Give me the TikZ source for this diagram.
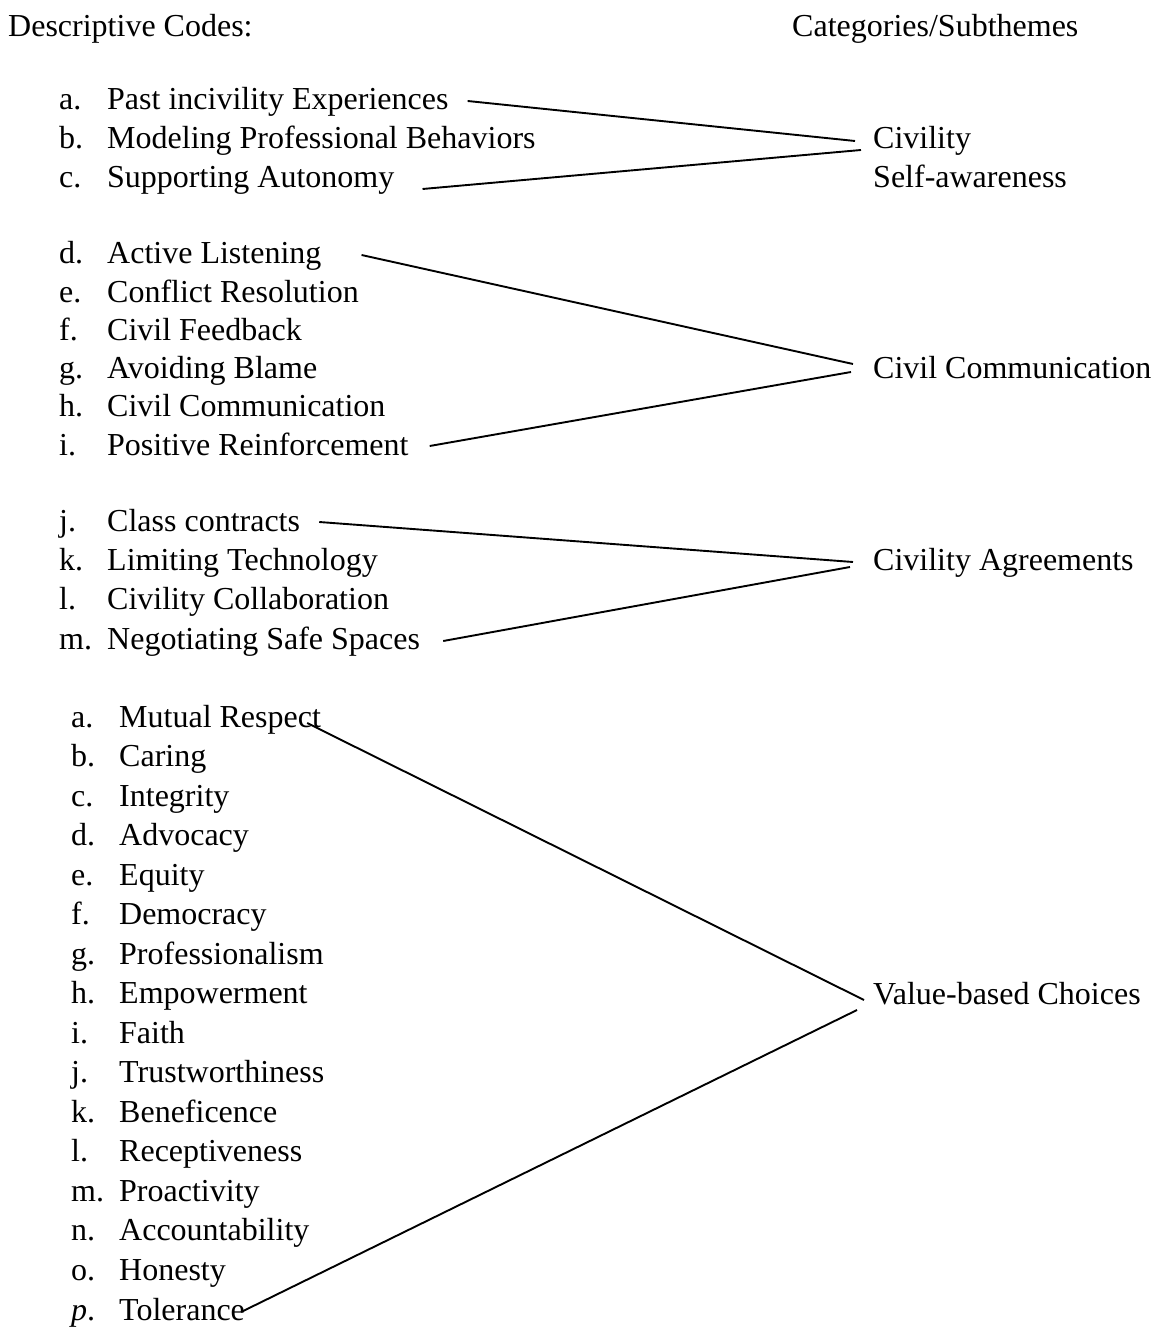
\documentclass[tikz,border=0pt]{standalone}
\usepackage{fontspec}
\setmainfont{Liberation Serif}
\usepackage{tikz}

\newcommand{\itm}[2]{\makebox[48pt][l]{#1}#2}

\begin{document}
\begin{tikzpicture}[x=1pt,y=-1pt,
	code/.style={anchor=base west,inner sep=0pt,font=\fontsize{32}{38}\selectfont},
	link/.style={line width=1.9pt}]
	\useasboundingbox (0,0) rectangle (1155,1329);
	
	\node[code] (hdcodes) at (8,37) {Descriptive Codes:};
	\node[code] (hdcats) at (792,37) {Categories/Subthemes};
	
	% first group
	\node[code] (past) at (59,110) {\itm{a.}{Past incivility Experiences}};
	\node[code] (model) at (59,149) {\itm{b.}{Modeling Professional Behaviors}};
	\node[code] (support) at (59,188) {\itm{c.}{Supporting Autonomy}};
	\node[code] (civ) at (873,149) {Civility};
	\node[code] (selfaw) at (873,188) {Self-awareness};
	
	\draw[link] ([xshift=19pt,yshift=9pt]past.base east) -- ([xshift=-18pt,yshift=8pt]civ.base west);
	\draw[link] ([xshift=28pt,yshift=-1pt]support.base east) -- ([xshift=-12pt,yshift=-1pt]civ.base west);
	
	% second group
	\node[code] (listen) at (59,264) {\itm{d.}{Active Listening}};
	\node[code] (conflict) at (59,302.2) {\itm{e.}{Conflict Resolution}};
	\node[code] (feedback) at (59,340.4) {\itm{f.}{Civil Feedback}};
	\node[code] (blame) at (59,378.6) {\itm{g.}{Avoiding Blame}};
	\node[code] (civcomm) at (59,416.8) {\itm{h.}{Civil Communication}};
	\node[code] (posrein) at (59,455) {\itm{i.}{Positive Reinforcement}};
	\node[code] (civcom) at (873,378) {Civil Communication};
	
	\draw[link] ([xshift=40pt,yshift=9pt]listen.base east) -- ([xshift=-20pt,yshift=14pt]civcom.base west);
	\draw[link] ([xshift=21pt,yshift=9pt]posrein.base east) -- ([xshift=-22pt,yshift=6pt]civcom.base west);
	
	% third group
	\node[code] (contracts) at (59,531) {\itm{j.}{Class contracts}};
	\node[code] (techlim) at (59,570.3) {\itm{k.}{Limiting Technology}};
	\node[code] (collab) at (59,609.6) {\itm{l.}{Civility Collaboration}};
	\node[code] (safesp) at (59,649) {\itm{m.}{Negotiating Safe Spaces}};
	\node[code] (civagr) at (873,570) {Civility Agreements};
	
	\draw[link] ([xshift=19pt,yshift=9pt]contracts.base east) -- ([xshift=-20pt,yshift=8pt]civagr.base west);
	\draw[link] ([xshift=23pt,yshift=8pt]safesp.base east) -- ([xshift=-23pt,yshift=3pt]civagr.base west);
	
	% values
	\node[code] (respect) at (71,727) {\itm{a.}{Mutual Respect}};
	\node[code] (caring) at (71,766.5) {\itm{b.}{Caring}};
	\node[code] (integrity) at (71,806.1) {\itm{c.}{Integrity}};
	\node[code] (advocacy) at (71,845.6) {\itm{d.}{Advocacy}};
	\node[code] (equity) at (71,885.1) {\itm{e.}{Equity}};
	\node[code] (democracy) at (71,924.7) {\itm{f.}{Democracy}};
	\node[code] (prof) at (71,964.2) {\itm{g.}{Professionalism}};
	\node[code] (empower) at (71,1003.7) {\itm{h.}{Empowerment}};
	\node[code] (faith) at (71,1043.3) {\itm{i.}{Faith}};
	\node[code] (trust) at (71,1082.8) {\itm{j.}{Trustworthiness}};
	\node[code] (benef) at (71,1122.3) {\itm{k.}{Beneficence}};
	\node[code] (recept) at (71,1161.9) {\itm{l.}{Receptiveness}};
	\node[code] (proact) at (71,1201.4) {\itm{m.}{Proactivity}};
	\node[code] (account) at (71,1240.9) {\itm{n.}{Accountability}};
	\node[code] (honesty) at (71,1280.5) {\itm{o.}{Honesty}};
	\node[code] (toler) at (71,1320) {\itm{\textit{p}.}{Tolerance}};
	\node[code] (valch) at (873,1004) {Value-based Choices};
	
	\draw[link] ([xshift=-14pt,yshift=4pt]respect.base east) -- ([xshift=-9pt,yshift=4pt]valch.base west);
	\draw[link] ([xshift=-4pt,yshift=8pt]toler.base east) -- ([xshift=-16pt,yshift=-6pt]valch.base west);
	
\end{tikzpicture}
\end{document}
